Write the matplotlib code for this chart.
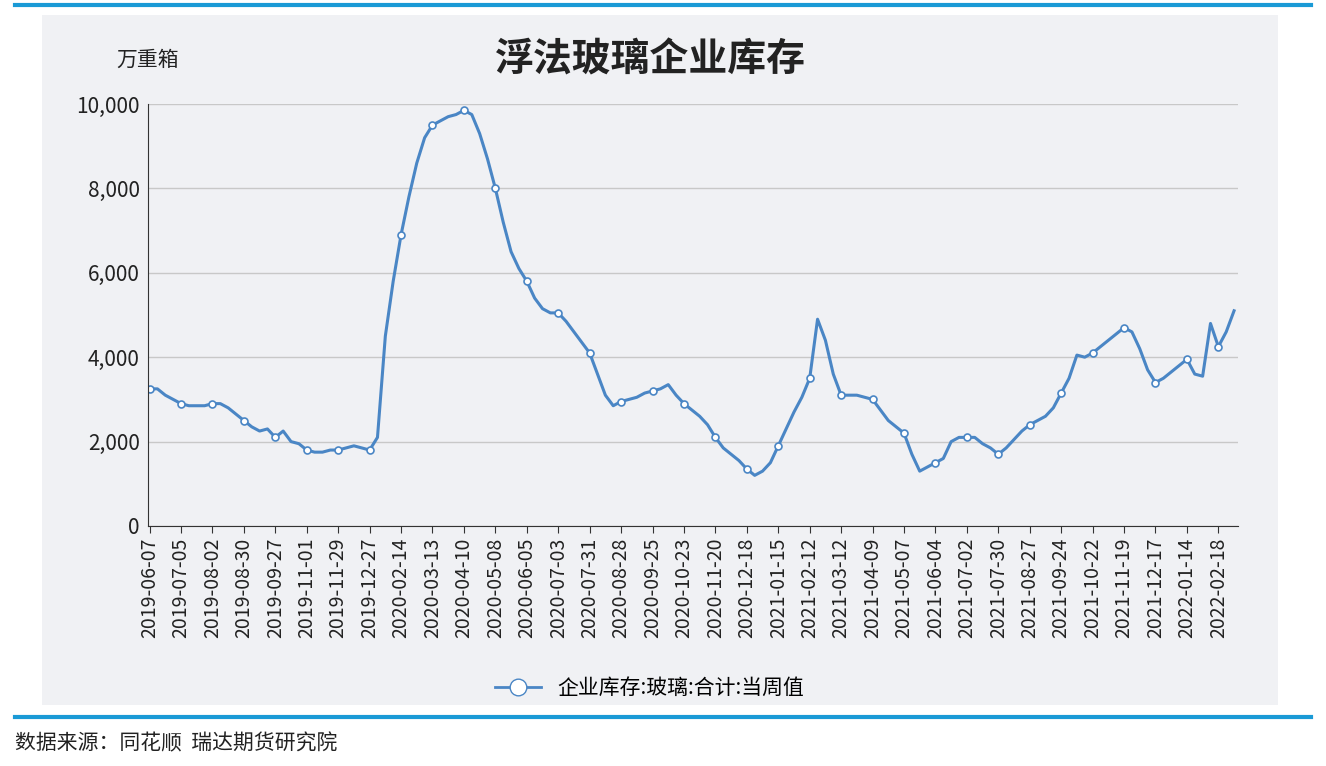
import matplotlib
matplotlib.use("Agg")
import matplotlib.pyplot as plt
from matplotlib.lines import Line2D
import numpy as np

plt.rcParams['font.family'] = ['Noto Sans CJK SC', 'DejaVu Sans']

tick_labels = ["2019-06-07", "2019-07-05", "2019-08-02", "2019-08-30", "2019-09-27",
               "2019-11-01", "2019-11-29", "2019-12-27", "2020-02-14", "2020-03-13",
               "2020-04-10", "2020-05-08", "2020-06-05", "2020-07-03", "2020-07-31",
               "2020-08-28", "2020-09-25", "2020-10-23", "2020-11-20", "2020-12-18",
               "2021-01-15", "2021-02-12", "2021-03-12", "2021-04-09", "2021-05-07",
               "2021-06-04", "2021-07-02", "2021-07-30", "2021-08-27", "2021-09-24",
               "2021-10-22", "2021-11-19", "2021-12-17", "2022-01-14", "2022-02-18"]

# weekly inventory, 万重箱
inventory = [3250, 3250, 3100, 3000, 2900, 2850, 2850, 2850, 2900, 2900, 2800, 2650,
             2500, 2350, 2250, 2300, 2100, 2250, 2000, 1950, 1800, 1750, 1750, 1800,
             1800, 1850, 1900, 1850, 1800, 2100, 4500, 5800, 6900, 7800, 8600, 9200,
             9500, 9600, 9700, 9750, 9850, 9750, 9300, 8700, 8000, 7200, 6500, 6100,
             5800, 5400, 5150, 5050, 5050, 4850, 4600, 4350, 4100, 3600, 3100, 2850,
             2950, 3000, 3050, 3150, 3200, 3250, 3350, 3100, 2900, 2750, 2600, 2400,
             2100, 1850, 1700, 1550, 1350, 1200, 1300, 1500, 1900, 2300, 2700, 3050,
             3500, 4900, 4400, 3600, 3100, 3100, 3100, 3050, 3000, 2750, 2500, 2350,
             2200, 1700, 1300, 1400, 1500, 1600, 2000, 2100, 2100, 2100, 1950, 1850,
             1700, 1850, 2050, 2250, 2400, 2500, 2600, 2800, 3150, 3500, 4050, 4000,
             4100, 4250, 4400, 4550, 4700, 4600, 4200, 3700, 3400, 3500, 3650, 3800,
             3950, 3600, 3550, 4800, 4250, 4600, 5100]

LINE = '#4a86c5'
BG = '#f0f1f4'

fig = plt.figure(figsize=(13.26, 7.66), dpi=100)
fig.patch.set_facecolor('white')

# grey panel behind the chart
panel = fig.add_axes([42/1326, 1-705/766, 1236/1326, 690/766], zorder=-1)
panel.set_facecolor(BG)
panel.set_xticks([])
panel.set_yticks([])
for s in panel.spines.values():
    s.set_visible(False)

fig.add_artist(Line2D([15/1326, 1311/1326], [1-5/766]*2, color='#1a9ad6', lw=3))
fig.add_artist(Line2D([15/1326, 1311/1326], [1-717/766]*2, color='#1a9ad6', lw=3))

ax = fig.add_axes([148/1326, 1-526/766, 1090/1326, 422/766])
ax.set_facecolor('none')
x = np.arange(len(inventory))
ax.plot(x, inventory, color=LINE, lw=2.2, marker='o', markevery=4, ms=5,
        mfc='white', mec=LINE, mew=1.2)
ax.set_xlim(-0.2, len(inventory) - 0.5)
ax.set_ylim(0, 10000)
ax.set_yticks(range(0, 10001, 2000))
ax.set_yticklabels([f"{v:,}" for v in range(0, 10001, 2000)], fontsize=15, color='#222222')
ax.set_xticks(np.arange(len(tick_labels)) * 4)
ax.set_xticklabels(tick_labels, rotation=90, fontsize=14, color='#222222')
ax.grid(axis='y', color='#c8c8c8', lw=1)
ax.set_axisbelow(True)
for s in ['top', 'right']:
    ax.spines[s].set_visible(False)
ax.spines['left'].set_color('#333333')
ax.spines['bottom'].set_color('#333333')
ax.tick_params(axis='y', length=0, pad=6)
ax.tick_params(axis='x', length=5, color='#333333')

fig.text(650/1326, 1-60/766, '浮法玻璃企业库存', ha='center', va='center',
         fontsize=28, fontweight='bold', color='#222222')
fig.text(148/1326, 1-60/766, '万重箱', ha='center', va='center', fontsize=15, color='#222222')

handle = Line2D([], [], color=LINE, lw=2, marker='o', ms=12, mfc='white', mec=LINE)
fig.legend([handle], ['企业库存:玻璃:合计:当周值'], loc='center',
           bbox_to_anchor=(650/1326, 1-688/766), frameon=False, fontsize=15,
           handlelength=2.2)

fig.text(15/1326, 1-743/766, '数据来源：同花顺  瑞达期货研究院', ha='left', va='center',
         fontsize=15, color='#222222')

fig.savefig('out.png', dpi=100)
